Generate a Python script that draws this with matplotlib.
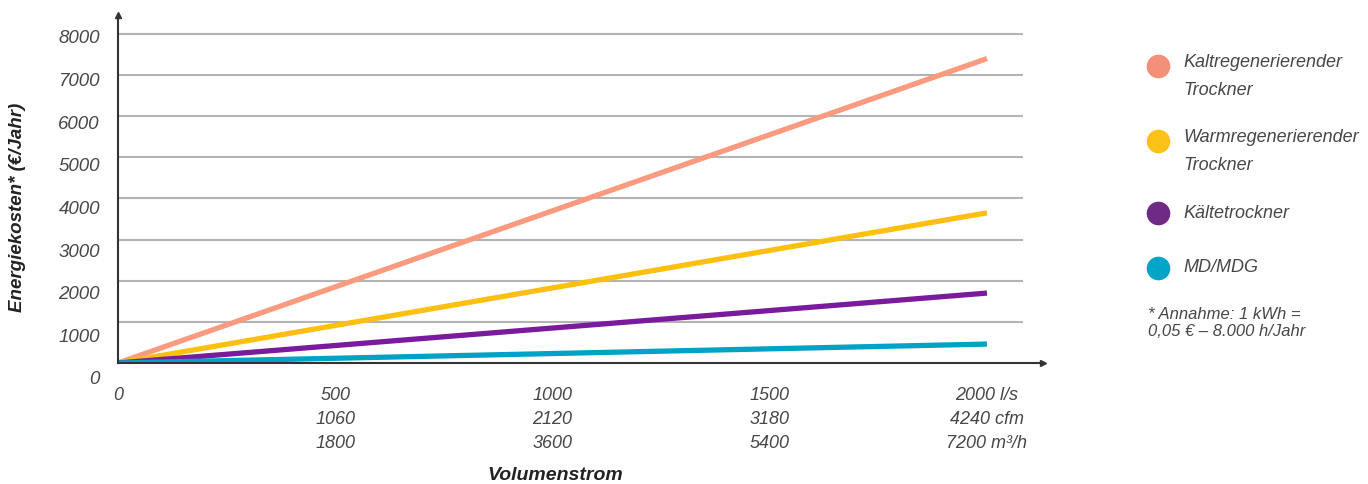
import matplotlib.pyplot as plt
from matplotlib.transforms import ScaledTranslation

# data
flow_ls = [0, 2000]
kalt = [0, 7400]
warm = [0, 3650]
kaelte = [0, 1700]
md = [0, 460]

series_names = ["Kaltregenerierender\nTrockner", "Warmregenerierender\nTrockner",
                "Kältetrockner", "MD/MDG"]
series_values = [kalt, warm, kaelte, md]
line_colors = ["#FA9A7E", "#FDC010", "#7A1A9C", "#00A3C6"]
dot_colors = ["#F4907A", "#FDC218", "#6E2A85", "#00A5C8"]

x_ticks = [0, 500, 1000, 1500, 2000]
x_labels = ["0", "500\n1060\n1800", "1000\n2120\n3600", "1500\n3180\n5400",
            "2000 l/s\n4240 cfm\n7200 m³/h"]
y_ticks = [0, 1000, 2000, 3000, 4000, 5000, 6000, 7000, 8000]

plt.rcParams['font.family'] = ['Liberation Sans', 'DejaVu Sans']
txt = "#474747"

fig = plt.figure(figsize=(13.68, 4.84), dpi=100)
ax = fig.add_axes([118 / 1368, 1 - 363 / 484, (1043 - 118) / 1368, (363 - 15) / 484])
ax.set_xlim(0, 2129)
ax.set_ylim(0, 8460)

# gridlines
ax.hlines(y_ticks[1:], 0, 2083, color="#b4b4b4", lw=1.5, zorder=1)

for vals, c in zip(series_values, line_colors):
    ax.plot(flow_ls, vals, color=c, lw=3.8, solid_capstyle="butt", zorder=3)

for s in ["top", "right"]:
    ax.spines[s].set_visible(False)
for s in ["left", "bottom"]:
    ax.spines[s].set_color("#333333")
    ax.spines[s].set_linewidth(1.5)
    ax.spines[s].set_zorder(4)
ax.plot(1, 0, ">", color="#333333", ms=5, transform=ax.transAxes, clip_on=False)
ax.plot(0, 1, "^", color="#333333", ms=5, transform=ax.transAxes, clip_on=False)

ax.set_xticks(x_ticks)
ax.set_xticklabels(x_labels, fontsize=13, style="italic", color=txt, linespacing=1.55)
ax.set_yticks(y_ticks)
ax.set_yticklabels([str(v) for v in y_ticks], fontsize=13.5, style="italic", color=txt)
ax.tick_params(axis="x", length=0, pad=17)
ax.tick_params(axis="y", length=0, pad=13)
for lab, v in zip(ax.get_yticklabels(), y_ticks):
    dy = (3 + (8 - v / 1000) * 1.5) / 100
    lab.set_transform(lab.get_transform() + ScaledTranslation(0, -dy, fig.dpi_scale_trans))

fig.text(18 / 1368, 1 - 207 / 484, "Energiekosten* (€/Jahr)", rotation=90,
         ha="center", va="center", fontsize=13.5, style="italic", fontweight="bold",
         color="#222222")
fig.text(555 / 1368, 1 - 475 / 484, "Volumenstrom", ha="center", va="center",
         fontsize=14, style="italic", fontweight="bold", color="#222222")

# legend
dot_y = [66, 141, 213, 268]
for name, c, y in zip(series_names, dot_colors, dot_y):
    fig.lines.append(plt.Line2D([1158 / 1368], [1 - y / 484], marker="o", ms=16,
                                color=c, transform=fig.transFigure))
    if "\n" in name:
        fig.text(1183 / 1368, 1 - (y - 12) / 484, name, ha="left", va="top",
                 fontsize=13, style="italic", color=txt, linespacing=1.85)
    else:
        fig.text(1183 / 1368, 1 - y / 484, name, ha="left", va="center",
                 fontsize=13, style="italic", color=txt)

fig.text(1148 / 1368, 1 - 323 / 484, "* Annahme: 1 kWh =\n0,05 € – 8.000 h/Jahr",
         ha="left", va="center", fontsize=12, style="italic", color=txt,
         linespacing=1.1)

fig.savefig("out.png", dpi=100)
